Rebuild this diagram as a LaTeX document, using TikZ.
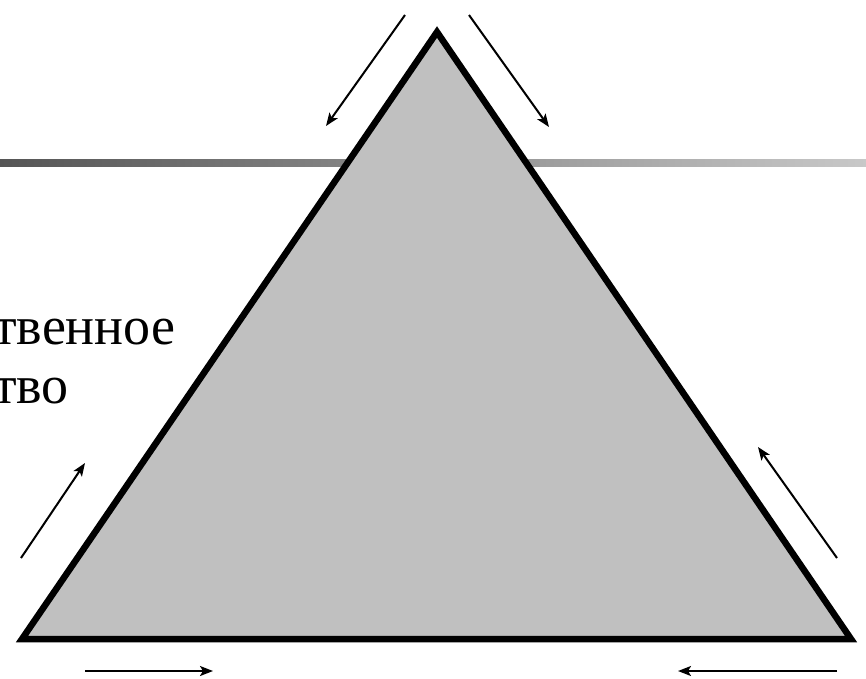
\documentclass[tikz,border=0pt]{standalone}
\usepackage{fontspec}
\setmainfont{Liberation Serif}
\usetikzlibrary{arrows.meta}
\definecolor{triFill}{HTML}{C0C0C0}
\definecolor{barLeft}{HTML}{555555}
\definecolor{barRight}{HTML}{C8C8C8}
\begin{document}
\begin{tikzpicture}[x=1pt,y=-1pt,
  arr/.style={line width=2pt,-{Stealth[length=13pt,width=10pt,inset=3pt]}},
  lbl/.style={anchor=base west,inner sep=0pt,font=\fontsize{54}{59}\selectfont}]
\useasboundingbox (0,0) rectangle (866,678);
\clip (0,0) rectangle (866,678);
\fill[white] (0,0) rectangle (866,678);
% gradient bar
\shade[left color=barLeft,right color=barRight] (0,159) rectangle (866,166);
% text (partly cut at the left edge, as in the reference)
\node[lbl] (l1) at (-7,344) {твенное};
\node[lbl] (l2) at (-7,403) {тво};
% triangle
\coordinate (A) at (437,32);
\coordinate (B) at (22,639);
\coordinate (C) at (851,639);
\draw[fill=triFill,line width=6.5pt,line join=miter] (A) -- (B) -- (C) -- cycle;
% arrows
\coordinate (t1s) at (405,15);  \coordinate (t1e) at (326,126);
\coordinate (t2s) at (469,15);  \coordinate (t2e) at (549,127);
\coordinate (l1s) at (21,558);  \coordinate (l1e) at (85,463);
\coordinate (r1s) at (837,558); \coordinate (r1e) at (758,447);
\coordinate (b1s) at (85,671);  \coordinate (b1e) at (213,671);
\coordinate (b2s) at (837,671); \coordinate (b2e) at (678,671);
\draw[arr] (t1s) -- (t1e);
\draw[arr] (t2s) -- (t2e);
\draw[arr] (l1s) -- (l1e);
\draw[arr] (r1s) -- (r1e);
\draw[arr] (b1s) -- (b1e);
\draw[arr] (b2s) -- (b2e);
\end{tikzpicture}
\end{document}
